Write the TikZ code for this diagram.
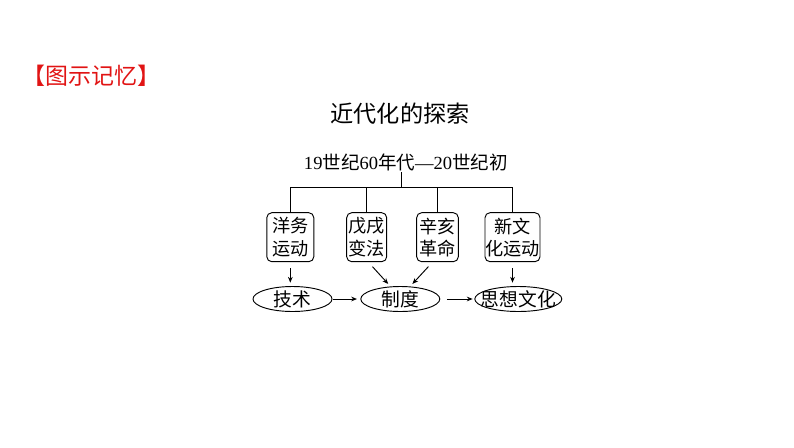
\documentclass[tikz,border=0pt]{standalone}
\usepackage{fontspec}
\setmainfont{Liberation Serif}
\newfontfamily\cjk{Noto Sans CJK SC}
\usetikzlibrary{shapes.geometric,arrows.meta}
\definecolor{titlered}{RGB}{225,20,20}
\begin{document}
\begin{tikzpicture}[x=0.03cm,y=-0.03cm,line width=0.8pt,
  stage/.style={draw,rounded corners=0.15cm,align=center,inner sep=0pt,
    minimum height=1.47cm,font=\cjk\fontsize{15.5}{19}\selectfont},
  field/.style={draw,ellipse,inner sep=0pt,minimum height=0.75cm,
    font=\cjk\fontsize{16}{19}\selectfont},
  pil/.style={-{Stealth[length=5pt,width=4pt]}}]
\useasboundingbox (0,0) rectangle (794,447);

% headings
\node[text=titlered,font=\cjk\fontsize{19.6}{23}\selectfont] (memo) at (91.5,76) {【图示记忆】};
\node[font=\cjk\fontsize{19.8}{23}\selectfont] (head) at (400,114) {近代化的探索};
\node[font=\fontsize{15.8}{18}\selectfont,inner sep=1pt] (date) at (405.8,162)
  {19{\cjk 世纪}60{\cjk 年代}—20{\cjk 世纪初}};

% four stages
\node[stage,minimum width=1.41cm] (yw) at (290.3,237.2) {洋务\\运动};
\node[stage,minimum width=1.20cm] (wx) at (366.7,237.2) {戊戌\\变法};
\node[stage,minimum width=1.25cm] (xh) at (437.5,237.2) {辛亥\\革命};
\node[stage,minimum width=1.65cm] (xwh) at (512.5,237.2) {新文\\化运动};

% three levels
\node[field,minimum width=2.37cm] (js) at (292.5,299) {技术};
\node[field,minimum width=2.37cm] (zd) at (400.3,299) {制度};
\node[field,minimum width=2.61cm,inner xsep=-0.21cm] (sx) at (518.3,299) {思想文化};

% tree
\coordinate (top) at (401,187.7);
\draw (top) -- (top |- date.south);
\draw (yw.north) |- (top) -| (xwh.north);
\draw (wx.north) -- (wx.north |- top);
\draw (xh.north) -- (xh.north |- top);

% arrows
\draw[pil,shorten <=0.18cm,shorten >=0.1cm] (yw.south) -- (yw.south |- js.north);
\draw[pil,shorten <=0.18cm,shorten >=0.1cm] ([xshift=0.05cm]wx.south) -- (zd.128);
\draw[pil,shorten <=0.18cm,shorten >=0.1cm] ([xshift=-0.15cm]xh.south) -- (zd.52);
\draw[pil,shorten <=0.18cm,shorten >=0.1cm] (xwh.south) -- (xwh.south |- sx.north);
\draw[pil,shorten <=0.03cm,shorten >=0.1cm] (js) -- (zd);
\draw[pil,shorten <=0.2cm,shorten >=0.05cm] (zd) -- (sx);
\end{tikzpicture}
\end{document}
